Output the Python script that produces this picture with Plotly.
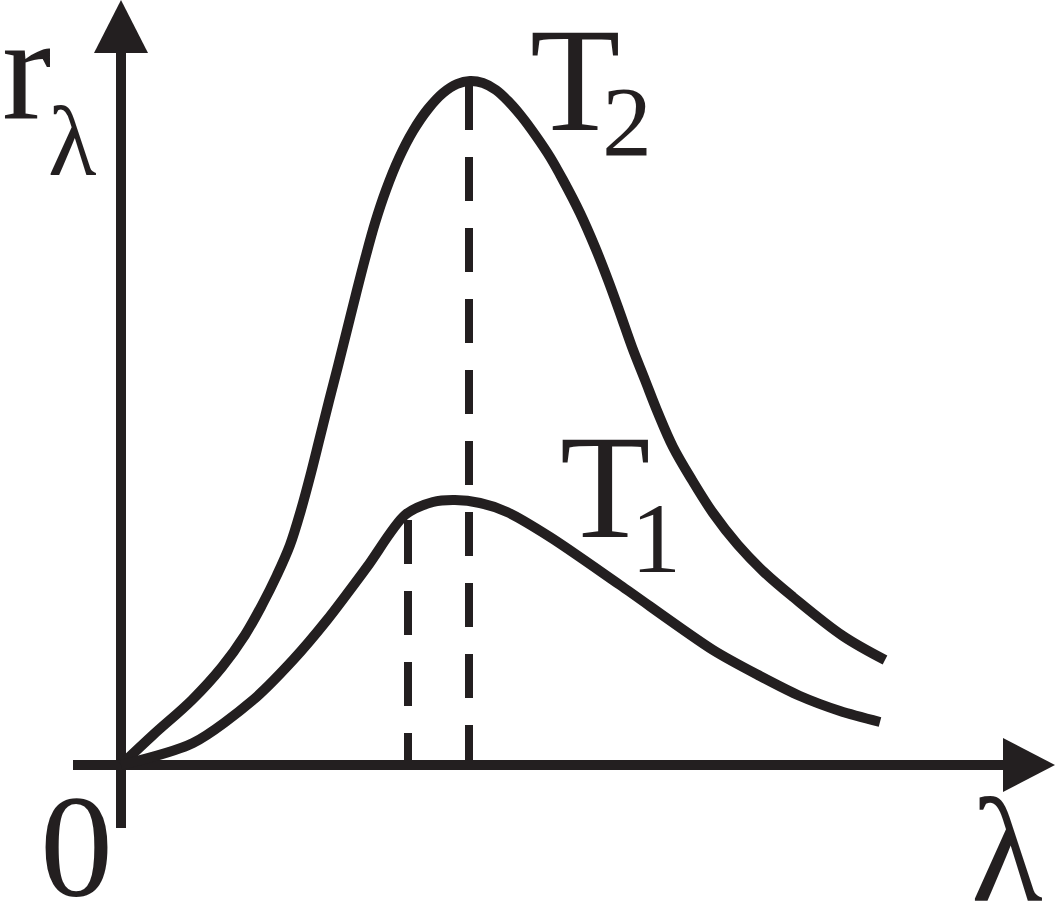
import plotly.graph_objects as go

# ---- data (wavelength offset / spectral radiance, arbitrary units) ----
t2_lambda = [0, 32, 71, 101, 124, 141, 156, 169, 180, 190, 199, 208, 217, 226,
             235, 244, 254, 265, 278, 292, 307, 322, 336, 349, 362, 375, 388,
             401, 415, 429, 442, 459, 474, 487, 499, 511, 524, 537, 552, 571,
             592, 617, 644, 672, 722, 764]
t2_r = [0, 30, 65, 98, 130, 160, 190, 220, 255, 292, 328, 364, 399, 435,
        471, 506, 542, 575, 607, 634, 656, 672, 681, 684, 682, 675, 663,
        648, 629, 608, 585, 552, 518, 485, 452, 418, 385, 352, 318, 285,
        252, 220, 192, 168, 129, 105]

t1_lambda = [0, 72, 132, 172, 206, 246, 284, 312, 334, 359, 386, 429, 499,
             592, 639, 679, 719, 759]
t1_r = [0, 22, 65, 105, 145, 198, 250, 263, 265, 262, 253, 228, 180,
        115, 89, 69, 54, 43]

peak_lambda = [287, 348]      # dashed guide positions
peak_r = [250, 684]

ink = "#231f20"
font_family = "Liberation Serif, Times New Roman, serif"

fig = go.Figure()

fig.add_trace(go.Scatter(x=t2_lambda, y=t2_r, mode="lines",
                         line=dict(color=ink, width=10, shape="spline", smoothing=1.0),
                         hoverinfo="skip", showlegend=False))
fig.add_trace(go.Scatter(x=t1_lambda, y=t1_r, mode="lines",
                         line=dict(color=ink, width=10, shape="spline", smoothing=0.8),
                         hoverinfo="skip", showlegend=False))

for px_, py_ in zip(peak_lambda, peak_r):
    fig.add_trace(go.Scatter(x=[px_, px_], y=[py_ - 5, 0], mode="lines",
                             line=dict(color=ink, width=8, dash="44px,27px"),
                             hoverinfo="skip", showlegend=False))

# ---- axes with arrowheads (decorations) ----
x_axis_start, x_axis_end, x_tip = -48, 884, 934
y_axis_start, y_axis_end, y_tip = -63, 714, 765
head_half = 27

shapes = [
    dict(type="line", x0=x_axis_start, y0=0, x1=x_axis_end, y1=0,
         line=dict(color=ink, width=10), layer="below"),
    dict(type="line", x0=0, y0=y_axis_start, x1=0, y1=y_axis_end,
         line=dict(color=ink, width=10), layer="below"),
    dict(type="path",
         path=f"M {x_axis_end-2},{-head_half} L {x_tip},0 L {x_axis_end-2},{head_half} Z",
         fillcolor=ink, line=dict(width=0)),
    dict(type="path",
         path=f"M {-head_half},{y_axis_end-2} L 0,{y_tip} L {head_half},{y_axis_end-2} Z",
         fillcolor=ink, line=dict(width=0)),
]

def ann(text, x, y, size):
    return dict(text=text, x=x, y=y, xref="x", yref="y", showarrow=False,
                xanchor="center", yanchor="middle",
                font=dict(family=font_family, size=size, color=ink))

annotations = [
    ann("r", -95, 696, 148),
    ann("λ", -49, 624, 100),
    ann("T", 454, 685, 148),
    ann("2", 505.5, 644, 100),
    ann("T", 483.5, 278, 148),
    ann("1", 534.5, 227, 100),
    ann("0", -44.5, -82, 146),
    ann("λ", 886, -85, 148),
]

fig.update_layout(
    width=1056, height=903,
    margin=dict(l=0, r=0, t=0, b=0),
    paper_bgcolor="white", plot_bgcolor="white",
    xaxis=dict(range=[-121, 935], visible=False, fixedrange=True),
    yaxis=dict(range=[-138, 765], visible=False, fixedrange=True),
    shapes=shapes,
    annotations=annotations,
    showlegend=False,
)

fig.write_html("out.html", config={"displayModeBar": False},
               post_script="document.body.style.margin='0';document.body.style.overflow='hidden';")
